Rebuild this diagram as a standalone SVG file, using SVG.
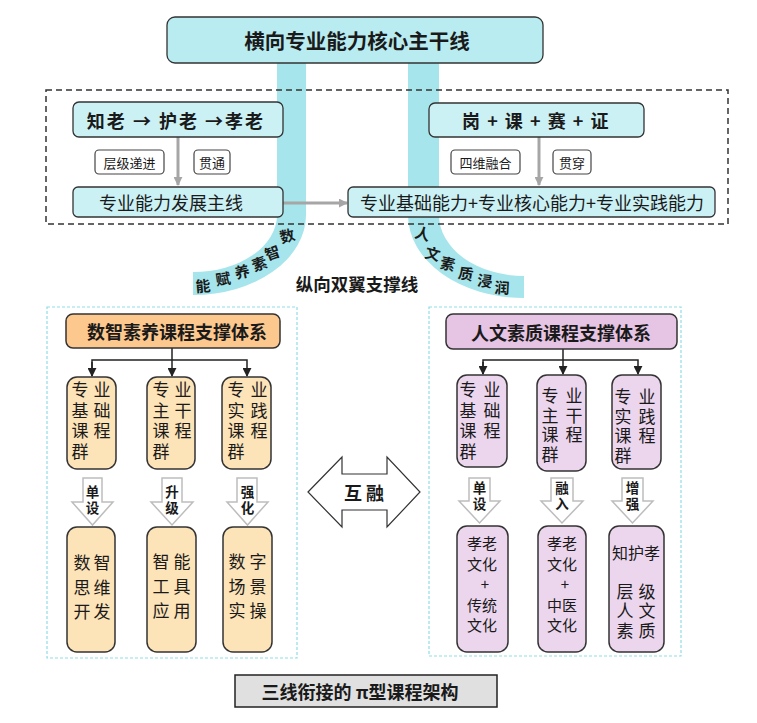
<svg xmlns="http://www.w3.org/2000/svg" width="757" height="723" viewBox="0 0 757 723">
<defs>
<style>
text{font-family:"Noto Sans CJK SC","Liberation Sans",sans-serif;fill:#1a1a1a;dominant-baseline:central;text-anchor:middle}
.b{font-weight:bold}
.box{stroke:#333;stroke-width:1.3}
.cyan1{fill:#b8ecf1}
.cyan2{fill:#cbf1f5}
.lbl{fill:#fff;stroke:#444;stroke-width:1.2}
.band{fill:#a6e5eb}
.orange{fill:#fcc88e;stroke:#333;stroke-width:1.5}
.peach{fill:#fde3b8;stroke:#333;stroke-width:1.5}
.purple{fill:#e6c4e4;stroke:#333;stroke-width:1.5}
.lav{fill:#ecd6ee;stroke:#333;stroke-width:1.5}
.panel{fill:none;stroke:#8fdde6;stroke-width:1.2;stroke-dasharray:3 2}
.blk{fill:#fff;stroke:#bdbdbd;stroke-width:1.5}
.gline{stroke:#a6a6a6;stroke-width:3;fill:none}
.kline{stroke:#222;stroke-width:1.5;fill:none}
.cb{font-size:15px}
.v{font-size:17px;writing-mode:vertical-rl;text-anchor:start;letter-spacing:3.5px}
.v2{font-size:17px;writing-mode:vertical-rl;text-anchor:start;letter-spacing:7.5px}
.v3{font-size:17px;writing-mode:vertical-rl;text-anchor:start;letter-spacing:2.5px}
.at{font-size:13.5px;font-weight:bold;writing-mode:vertical-rl;text-anchor:start;letter-spacing:2.5px}
</style>
<marker id="ga" viewBox="0 0 10 10" refX="9" refY="5" markerWidth="3" markerHeight="3" orient="auto"><path d="M0,0 L10,5 L0,10 Z" fill="#a6a6a6"/></marker>
<marker id="ka" viewBox="0 0 10 10" refX="9" refY="5" markerWidth="6" markerHeight="6" orient="auto"><path d="M0,0 L10,5 L0,10 Z" fill="#222"/></marker>
</defs>
<rect width="757" height="723" fill="#fff"/>

<g id="bands">
<path class="band" d="M277,60 H306 V215 A113,80 0 0 1 193,295 V272 A84,57 0 0 0 277,215 Z"/>
<path class="band" d="M408,60 H439 V215 A85,61 0 0 0 524,276 V298 A116,83 0 0 1 408,215 Z"/>
</g>

<g id="dashed-frame">
<rect x="46" y="90" width="682" height="134" fill="none" stroke="#333" stroke-width="1.5" stroke-dasharray="6 4"/>
</g>

<g id="main-trunk">
<rect class="box cyan1" x="167" y="17" width="376" height="46" rx="8"/>
<text class="b" x="357" y="40" font-size="20.5">横向专业能力核心主干线</text>
</g>

<g id="connectors">
<line class="gline" x1="178" y1="137" x2="178" y2="185" marker-end="url(#ga)"/>
<line class="gline" x1="539" y1="137" x2="539" y2="185" marker-end="url(#ga)"/>
<line class="gline" x1="283" y1="203" x2="347" y2="203" marker-end="url(#ga)"/>
<polyline class="kline" points="172,348 172,360"/>
<polyline class="kline" points="92,376 92,360 247,360 247,376" marker-end="url(#ka)"/>
<line class="kline" x1="92" y1="362" x2="92" y2="376" marker-end="url(#ka)"/>
<line class="kline" x1="172" y1="360" x2="172" y2="376" marker-end="url(#ka)"/>
<polyline class="kline" points="563,349 563,360"/>
<polyline class="kline" points="483,374 483,360 638,360 638,374" marker-end="url(#ka)"/>
<line class="kline" x1="483" y1="362" x2="483" y2="374" marker-end="url(#ka)"/>
<line class="kline" x1="563" y1="360" x2="563" y2="374" marker-end="url(#ka)"/>
</g>

<g id="zhilao">
<rect class="box cyan2" x="73" y="102" width="210" height="35" rx="6"/>
<text class="b" x="176" y="119.5" font-size="18" letter-spacing="2">知老 → 护老 →孝老</text>
</g>
<g id="label-cengji">
<rect class="lbl" x="95" y="150" width="69" height="24" rx="4"/>
<text x="129.5" y="162" font-size="13">层级递进</text>
</g>
<g id="label-guantong">
<rect class="lbl" x="194" y="150" width="36" height="24" rx="4"/>
<text x="212" y="162" font-size="13">贯通</text>
</g>
<g id="zhuxian">
<rect class="box cyan2" x="73" y="187" width="210" height="30" rx="5"/>
<text x="171" y="202" font-size="18">专业能力发展主线</text>
</g>
<g id="gangke">
<rect class="box cyan2" x="429" y="103" width="215" height="34" rx="6"/>
<text class="b" x="536" y="120" font-size="18" letter-spacing="1.5">岗 + 课 + 赛 + 证</text>
</g>
<g id="label-siwei">
<rect class="lbl" x="451" y="150" width="69" height="24" rx="4"/>
<text x="485.5" y="162" font-size="13">四维融合</text>
</g>
<g id="label-guanchuan">
<rect class="lbl" x="553" y="150" width="38" height="24" rx="4"/>
<text x="572" y="162" font-size="13">贯穿</text>
</g>
<g id="nengli">
<rect class="box cyan2" x="348" y="187" width="367" height="30" rx="5"/>
<text x="532" y="202" font-size="18">专业基础能力+专业核心能力+专业实践能力</text>
</g>

<g id="wing-texts">
<text class="b" x="287" y="235" font-size="15" transform="rotate(-15 287 235)">数</text>
<text class="b" x="272" y="252" font-size="15" transform="rotate(-20 272 252)">智</text>
<text class="b" x="259" y="263" font-size="15" transform="rotate(-20 259 263)">素</text>
<text class="b" x="242" y="271" font-size="15" transform="rotate(-12 242 271)">养</text>
<text class="b" x="223" y="278" font-size="15" transform="rotate(-8 223 278)">赋</text>
<text class="b" x="203" y="285" font-size="15" transform="rotate(-5 203 285)">能</text>
<text class="b" x="423" y="233" font-size="15" transform="rotate(15 423 233)">人</text>
<text class="b" x="433" y="253" font-size="15" transform="rotate(15 433 253)">文</text>
<text class="b" x="448" y="263" font-size="15" transform="rotate(12 448 263)">素</text>
<text class="b" x="466" y="273" font-size="15" transform="rotate(10 466 273)">质</text>
<text class="b" x="485" y="280" font-size="15" transform="rotate(6 485 280)">浸</text>
<text class="b" x="502" y="287" font-size="15" transform="rotate(3 502 287)">润</text>
<text class="b" x="357" y="283" font-size="17.5">纵向双翼支撑线</text>
</g>

<g id="left-panel">
<rect class="panel" x="47" y="307" width="250" height="351"/>
</g>
<g id="right-panel">
<rect class="panel" x="429" y="307" width="252" height="349"/>
</g>

<g id="shuzhi-title">
<rect class="orange" x="66" y="314" width="214" height="34" rx="7"/>
<text class="b" x="177" y="331" font-size="18">数智素养课程支撑体系</text>
</g>
<g id="l-course1">
<rect class="peach" x="67" y="377" width="49" height="92" rx="10"/>
<text class="v" x="80" y="381.5">专基课群</text>
<text class="v" x="102" y="381.5">业础程</text>
</g>
<g id="l-course2">
<rect class="peach" x="147" y="377" width="48" height="92" rx="10"/>
<text class="v" x="161" y="381.5">专主课群</text>
<text class="v" x="183" y="381.5">业干程</text>
</g>
<g id="l-course3">
<rect class="peach" x="222" y="377" width="49" height="92" rx="10"/>
<text class="v" x="236" y="381.5">专实课群</text>
<text class="v" x="259" y="381.5">业践程</text>
</g>

<g id="l-arrow1">
<path class="blk" d="M83,478 H102 V502 H113 L92.5,525 L72,502 H83 Z"/>
<text class="at" x="92.5" y="485">单设</text>
</g>
<g id="l-arrow2">
<path class="blk" d="M162,478 H182 V502 H193 L172,525 L151,502 H162 Z"/>
<text class="at" x="172" y="485">升级</text>
</g>
<g id="l-arrow3">
<path class="blk" d="M237,478 H257 V502 H268 L247.5,525 L227,502 H237 Z"/>
<text class="at" x="247.5" y="485">强化</text>
</g>

<g id="l-res1">
<rect class="peach" x="67" y="527" width="48" height="125" rx="10"/>
<text class="v2" x="82" y="554.5">数思开</text>
<text class="v2" x="102" y="554.5">智维发</text>
</g>
<g id="l-res2">
<rect class="peach" x="147" y="527" width="49" height="125" rx="10"/>
<text class="v2" x="161" y="553.5">智工应</text>
<text class="v2" x="182" y="553.5">能具用</text>
</g>
<g id="l-res3">
<rect class="peach" x="223" y="527" width="49" height="125" rx="10"/>
<text class="v2" x="237" y="553.5">数场实</text>
<text class="v2" x="258" y="553.5">字景操</text>
</g>

<g id="hurong">
<path fill="#fff" stroke="#333" stroke-width="1.2" d="M308,492 L342,457 V474 H387 V457 L420,492 L387,527 V510 H342 V527 Z"/>
<text class="b" x="364" y="492" font-size="18">互 融</text>
</g>

<g id="renwen-title">
<rect class="purple" x="446" y="314" width="231" height="35" rx="7"/>
<text class="b" x="561" y="331.5" font-size="18">人文素质课程支撑体系</text>
</g>
<g id="r-course1">
<rect class="lav" x="457" y="375" width="50" height="92" rx="10"/>
<text class="v" x="468" y="381.5">专基课群</text>
<text class="v" x="492" y="381.5">业础程</text>
</g>
<g id="r-course2">
<rect class="lav" x="537" y="375" width="49" height="96" rx="10"/>
<text class="v3" x="550" y="387.5">专主课群</text>
<text class="v3" x="574" y="387.5">业干程</text>
</g>
<g id="r-course3">
<rect class="lav" x="612" y="375" width="49" height="94" rx="10"/>
<text class="v3" x="623" y="388.5">专实课群</text>
<text class="v3" x="647" y="388.5">业践程</text>
</g>

<g id="r-arrow1">
<path class="blk" d="M469,478 H490 V501 H500 L479.5,523 L459,501 H469 Z"/>
<text class="at" x="479.5" y="481">单设</text>
</g>
<g id="r-arrow2">
<path class="blk" d="M551,478 H573 V501 H583 L562,523 L541,501 H551 Z"/>
<text class="at" x="562" y="481">融入</text>
</g>
<g id="r-arrow3">
<path class="blk" d="M622,478 H643 V501 H653 L632.5,523 L612,501 H622 Z"/>
<text class="at" x="632.5" y="481">增强</text>
</g>

<g id="r-res1">
<rect class="lav" x="457" y="526" width="51" height="126" rx="10"/>
<text class="cb"><tspan x="482" y="542">孝老</tspan><tspan x="482" y="562.5">文化</tspan><tspan x="485" y="583">+</tspan><tspan x="482" y="603.5">传统</tspan><tspan x="482" y="624">文化</tspan></text>
</g>
<g id="r-res2">
<rect class="lav" x="538" y="526" width="48" height="126" rx="10"/>
<text class="cb"><tspan x="562" y="542">孝老</tspan><tspan x="562" y="562.5">文化</tspan><tspan x="565" y="583">+</tspan><tspan x="562" y="603.5">中医</tspan><tspan x="562" y="624">文化</tspan></text>
</g>
<g id="r-res3">
<rect class="lav" x="609" y="526" width="55" height="126" rx="10"/>
<text x="636" y="552" font-size="16">知护孝</text>
<text class="v3" x="625" y="583">层人素</text>
<text class="v3" x="647" y="583">级文质</text>
</g>

<g id="bottom-title">
<rect x="235" y="675" width="262" height="32" fill="#e0e0e0" stroke="#222" stroke-width="1.5"/>
<text class="b" x="360" y="691" font-size="18">三线衔接的 π型课程架构</text>
</g>
</svg>
